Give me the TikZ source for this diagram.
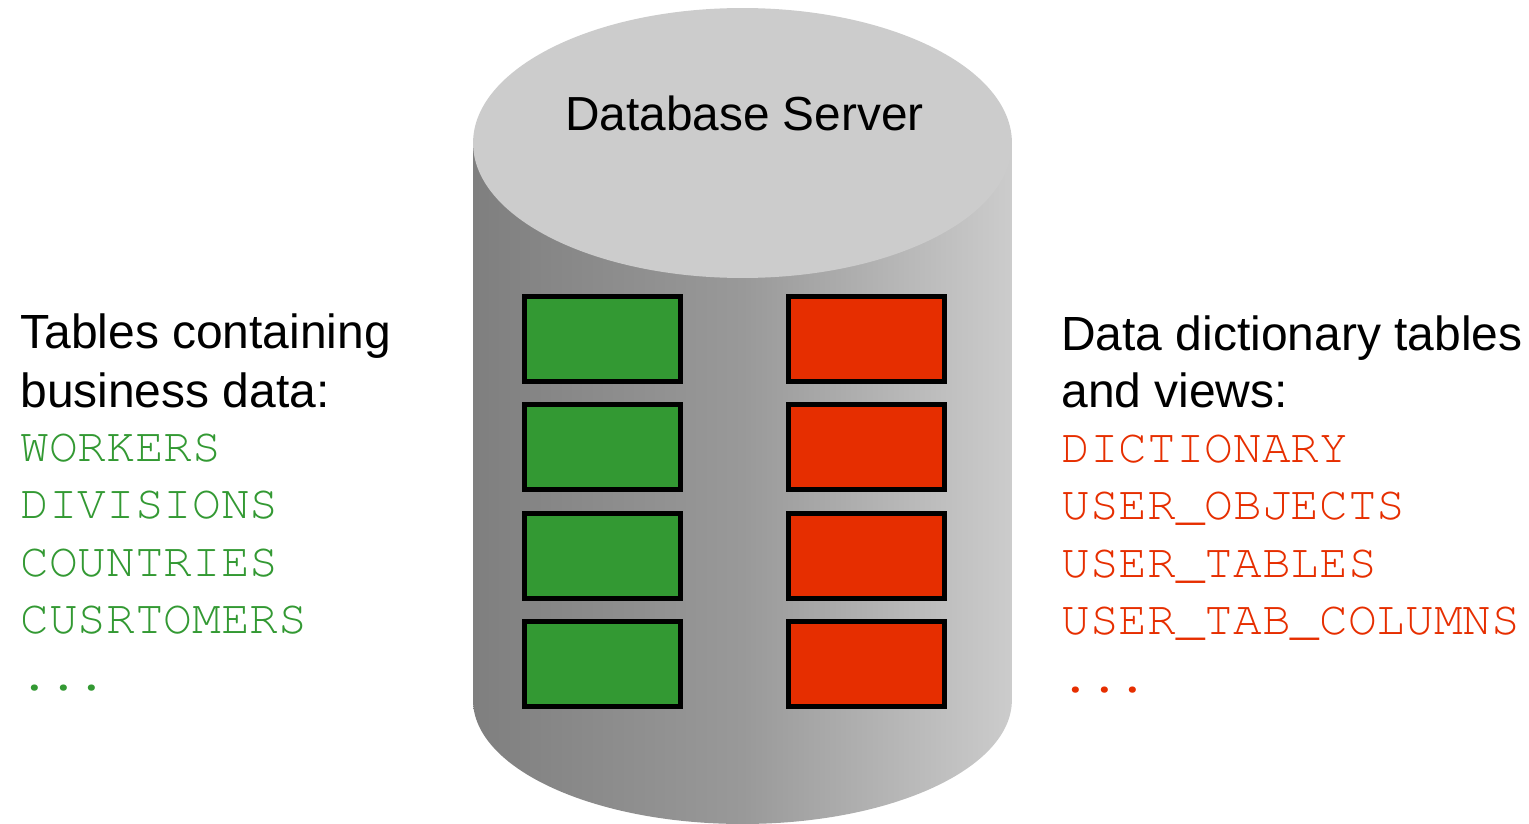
\documentclass[tikz,border=0pt]{standalone}
\usepackage{fontspec}
\setmainfont{Liberation Sans}
\setmonofont{TeX Gyre Cursor}
\definecolor{cylleft}{HTML}{7F7F7F}
\definecolor{cylmid}{HTML}{999999}
\definecolor{cylright}{HTML}{CCCCCC}
\definecolor{cyltop}{HTML}{CCCCCC}
\definecolor{bizgreen}{HTML}{339933}
\definecolor{dictred}{HTML}{E62E00}
\tikzset{
  tablebox/.style={draw=black, line width=0.1cm, minimum width=3.12cm, minimum height=1.7cm, inner sep=0pt},
  headtext/.style={anchor=base west, inner sep=0pt, font=\fontsize{27.3}{32}\selectfont},
  monotext/.style={anchor=base west, inner sep=0pt, font=\ttfamily\fontsize{27.2}{32}\selectfont}
}
\begin{document}
\begin{tikzpicture}[x=0.02cm, y=-0.02cm]
            \useasboundingbox (0,0) rectangle (1529,824);
            \shade[left color=cylleft, right color=cylright, middle color=cylmid]
                (473,143) -- (473,700) arc[start angle=180, end angle=360, x radius=5.39cm, y radius=2.48cm] -- (1012,143) -- cycle;
            \fill[cyltop] (742.5,143) ellipse[x radius=5.39cm, y radius=2.7cm];
            \node[anchor=base, inner sep=0pt, font=\fontsize{27.2}{32}\selectfont] (server) at (744.5,131) {Database Server};
            \foreach \i in {1,...,4} {
                \node[tablebox, fill=bizgreen] (g\i) at (602.5, {339+108.33*(\i-1)}) {};
                \node[tablebox, fill=dictred] (r\i) at (866.5, {339+108.33*(\i-1)}) {};
            }
            \node[headtext] (bizhead1) at (20,349) {Tables containing};
            \node[headtext] (bizhead2) at (20,407) {business data:};
            \foreach \t [count=\i] in {WORKERS,DIVISIONS,COUNTRIES,CUSRTOMERS} {
                \node[monotext, text=bizgreen] (biz\i) at (20, {461+57.5*(\i-1)}) {\t};
            }
            \node[monotext, text=bizgreen] (bizdots) at (20,690) {...};
            \node[headtext] (dicthead1) at (1061,351) {Data dictionary tables};
            \node[headtext] (dicthead2) at (1061,407) {and views:};
            \foreach \t [count=\i] in {DICTIONARY,USER\_OBJECTS,USER\_TABLES,USER\_TAB\_COLUMNS} {
                \node[monotext, text=dictred] (dict\i) at (1061, {462+57.5*(\i-1)}) {\t};
            }
            \node[monotext, text=dictred] (dictdots) at (1061,692) {...};
        \end{tikzpicture}
\end{document}
